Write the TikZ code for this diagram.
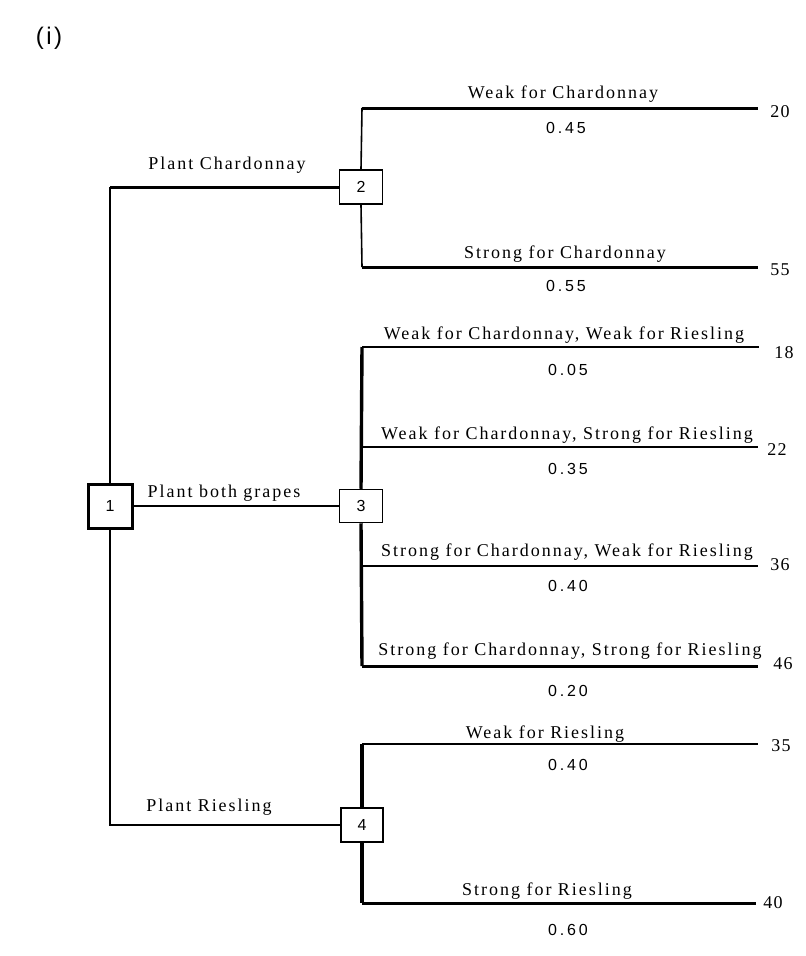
\documentclass[tikz,border=0pt]{standalone}
\usepackage{fontspec}
\setmainfont{Liberation Serif}
\newfontfamily\lblfont[LetterSpace=11]{Liberation Serif}
\newfontfamily\valfont[LetterSpace=8]{Liberation Serif}
\newfontfamily\probfont[LetterSpace=18]{Liberation Sans}
\newfontfamily\numfont{Liberation Sans}
\newfontfamily\ttlfont[LetterSpace=10]{Liberation Sans}
\begin{document}
\begin{tikzpicture}[x=1pt,y=-1pt,
  decbox/.style={draw, line width=1.5pt, minimum width=43pt, minimum height=34pt, inner sep=0pt, font=\numfont\fontsize{16}{16}\selectfont},
  thinln/.style={line width=1.6pt},
  thickln/.style={line width=3pt},
  lbl/.style={anchor=base, inner sep=0pt, font=\lblfont\fontsize{18}{19}\selectfont},
  prob/.style={anchor=base, inner sep=0pt, font=\probfont\fontsize{16}{16}\selectfont},
  val/.style={anchor=base, inner sep=0pt, font=\valfont\fontsize{18}{18}\selectfont}]
\useasboundingbox[fill=white] (0,0) rectangle (806,956);
\node[anchor=center, font=\ttlfont\fontsize{24}{24}\selectfont] (title) at (49,38) {(i)};
% decision / chance boxes
\node[decbox, line width=3pt, minimum width=44pt, minimum height=44pt] (n1) at (110,506) {1};
\node[decbox] (n2) at (361,187) {2};
\node[decbox, minimum height=33pt] (n3) at (361,506) {3};
\node[decbox, minimum width=42pt] (n4) at (362,825) {4};
% junction coordinates
\coordinate (c1) at (110,187);
\coordinate (c4) at (110,825);
\coordinate (j2a) at (362,108);
\coordinate (j2b) at (362,267);
\coordinate (j3a) at (362,347);
\coordinate (j3b) at (362,447);
\coordinate (j3c) at (362,566);
\coordinate (j3d) at (362,666);
\coordinate (j4a) at (362,744);
\coordinate (j4b) at (362,903);
\coordinate (e2a) at (758,108);
\coordinate (e2b) at (758,267);
\coordinate (e3a) at (759,347);
\coordinate (e3b) at (758,447);
\coordinate (e3c) at (758,566);
\coordinate (e3d) at (758,666);
\coordinate (e4a) at (758,744);
\coordinate (e4b) at (756,903);
% trunk from node 1
\draw[thinln] (n1.north) -- (c1);
\draw[thickln] (c1) -- (n2.west);
\draw[thinln] (n1.east) -- (n3.west);
\draw[thinln] (n1.south) -- (c4) -- (n4.west);
% node 2 branches
\draw[thinln] (n2.north) -- (j2a);
\draw[thinln] (n2.south) -- (j2b);
\draw[thickln] (j2a) -- (e2a);
\draw[thickln] (j2b) -- (e2b);
% node 3 branches
\draw[line width=3.4pt] (j3a) -- (n3.north);
\draw[line width=3.4pt] (n3.south) -- (j3d);
\draw[thinln] (j3a) -- (e3a);
\draw[thinln] (j3b) -- (e3b);
\draw[thinln] (j3c) -- (e3c);
\draw[thickln] (j3d) -- (e3d);
% node 4 branches
\draw[line width=3.4pt] (j4a) -- (n4.north);
\draw[line width=3.4pt] (n4.south) -- (j4b);
\draw[thinln] (j4a) -- (e4a);
\draw[thickln] (j4b) -- (e4b);
% branch labels from node 1
\node[lbl] (l1) at (227,169) {Plant Chardonnay};
\node[lbl] (l2) at (224,497) {Plant both grapes};
\node[lbl] (l3) at (209,811) {Plant Riesling};
% outcome labels
\node[lbl] (o2a) at (563,98) {Weak for Chardonnay};
\node[lbl] (o2b) at (565,258) {Strong for Chardonnay};
\node[lbl] (o3a) at (564,339) {Weak for Chardonnay, Weak for Riesling};
\node[lbl] (o3b) at (567,439) {Weak for Chardonnay, Strong for Riesling};
\node[lbl] (o3c) at (567,556) {Strong for Chardonnay, Weak for Riesling};
\node[lbl] (o3d) at (570,655) {Strong for Chardonnay, Strong for Riesling};
\node[lbl] (o4a) at (545,738) {Weak for Riesling};
\node[lbl] (o4b) at (547,895) {Strong for Riesling};
% probabilities
\node[prob] (p2a) at (566,133) {0.45};
\node[prob] (p2b) at (566,291) {0.55};
\node[prob] (p3a) at (568,375) {0.05};
\node[prob] (p3b) at (568,474) {0.35};
\node[prob] (p3c) at (568,591) {0.40};
\node[prob] (p3d) at (568,696) {0.20};
\node[prob] (p4a) at (568,770) {0.40};
\node[prob] (p4b) at (568,935) {0.60};
% payoffs
\node[val] (v2a) at (780,117) {20};
\node[val] (v2b) at (780,275) {55};
\node[val] (v3a) at (784,358) {18};
\node[val] (v3b) at (777,455) {22};
\node[val] (v3c) at (780,570) {36};
\node[val] (v3d) at (783,669) {46};
\node[val] (v4a) at (781,751) {35};
\node[val] (v4b) at (773,908) {40};
\end{tikzpicture}
\end{document}
